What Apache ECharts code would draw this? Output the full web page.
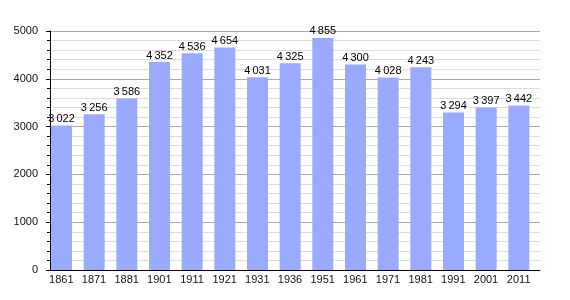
<!DOCTYPE html>
<html><head><meta charset="utf-8">
<script src="https://cdn.jsdelivr.net/npm/echarts@6/dist/echarts.min.js"></script>
<style>html,body{margin:0;padding:0;background:#fff}#c{width:570px;height:300px}</style>
</head><body><div id="c"></div>
<script>
const years = ['1861','1871','1881','1901','1911','1921','1931','1936','1951','1961','1971','1981','1991','2001','2011'];
const population = [3022,3256,3586,4352,4536,4654,4031,4325,4855,4300,4028,4243,3294,3397,3442];
const yTicks = [0,1000,2000,3000,4000,5000];
const fmt = v => String(v).replace(/\B(?=(\d{3})+(?!\d))/g, '\u2009');
const chart = echarts.init(document.getElementById('c'), null, {renderer:'canvas'});
chart.setOption({
  animation:false,
  grid:{left:50, right:30, top:31, bottom:30},
  xAxis:{type:'category', data:years, boundaryGap:true,
    axisLine:{lineStyle:{color:'#000', width:1}}, axisTick:{show:false},
    axisLabel:{color:'#111', fontFamily:'Liberation Sans, Arial, sans-serif', fontSize:11, margin:4,
      align:'center', padding:[0,10,0,0]}
  },
  yAxis:{type:'value', min:yTicks[0], max:yTicks[yTicks.length-1], interval:1000,
    axisLine:{show:true, lineStyle:{color:'#000'}},
    axisTick:{show:true, length:4, lineStyle:{color:'#000'}},
    minorTick:{show:true, splitNumber:5, length:3, lineStyle:{color:'#000'}},
    splitLine:{lineStyle:{color:'#aaa'}},
    minorSplitLine:{show:true, lineStyle:{color:'#dddddd'}},
    axisLabel:{color:'#111', fontFamily:'Liberation Sans, Arial, sans-serif', fontSize:11, margin:12,
      formatter:v=>String(v)}
  },
  series:[
    {type:'bar', data:population, barWidth:21, barGap:'-54%',
     itemStyle:{color:'#99aaff'},
     label:{show:true, position:'top', distance:1, color:'#000', fontFamily:'Liberation Sans, Arial, sans-serif', fontSize:11,
       formatter:p=>fmt(p.value)}},
    {type:'bar', data:population.map(()=>null), barWidth:21, silent:true}
  ]
});
</script></body></html>
